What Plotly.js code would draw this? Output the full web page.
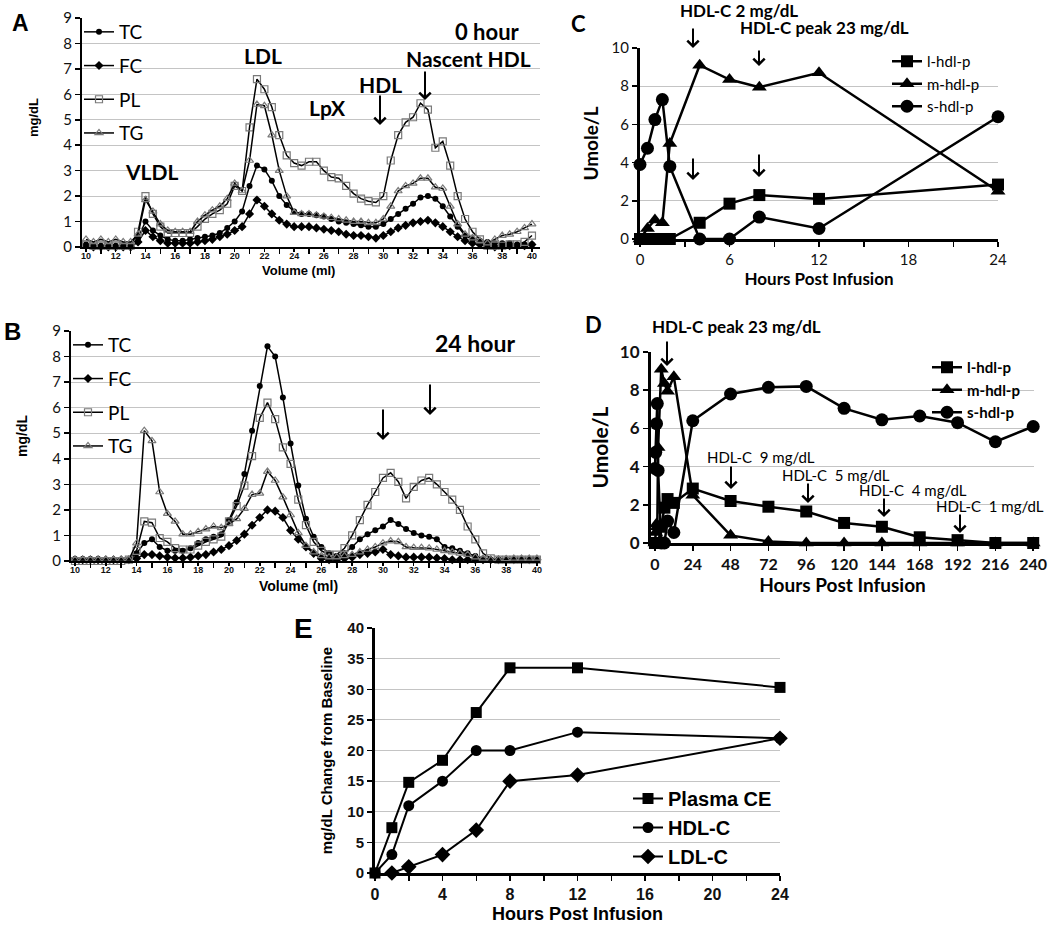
<!DOCTYPE html>
<html>
<head>
<meta charset="utf-8">
<script src="https://cdn.plot.ly/plotly-3.0.1.min.js"></script>
<style>html,body{margin:0;padding:0;background:#fff}</style>
</head>
<body>
<div id="chart" style="width:1050px;height:928px"></div>
<script>
// fraction volume (ml), panels A and B
const volume = [10, 10.5, 11, 11.5, 12, 12.5, 13, 13.5, 14, 14.5, 15, 15.5, 16, 16.5, 17, 17.5, 18, 18.5, 19, 19.5,
  20, 20.5, 21, 21.5, 22, 22.5, 23, 23.5, 24, 24.5, 25, 25.5, 26, 26.5, 27, 27.5, 28, 28.5, 29, 29.5,
  30, 30.5, 31, 31.5, 32, 32.5, 33, 33.5, 34, 34.5, 35, 35.5, 36, 36.5, 37, 37.5, 38, 38.5, 39, 39.5, 40]

// A: 0 hour
const tc0 = [0.1, 0.05, 0.05, 0.05, 0.05, 0.05, 0.05, 0.35, 1.0, 0.65, 0.45, 0.3, 0.25, 0.25, 0.3, 0.35, 0.4, 0.45, 0.55, 0.75,
  1.0, 1.4, 2.4, 3.2, 3.05, 2.6, 2.0, 1.65, 1.4, 1.3, 1.3, 1.25, 1.2, 1.1, 1.0, 0.95, 0.9, 0.85, 0.8, 0.8,
  0.9, 1.1, 1.3, 1.5, 1.7, 1.95, 2.0, 1.9, 1.6, 1.2, 0.8, 0.45, 0.3, 0.25, 0.2, 0.15, 0.15, 0.15, 0.1, 0.1, 0.1]
const fc0 = [0.05, 0, 0, 0, 0, 0, 0, 0.2, 0.65, 0.4, 0.25, 0.15, 0.15, 0.15, 0.15, 0.2, 0.25, 0.3, 0.4, 0.5,
  0.65, 0.8, 1.3, 1.85, 1.6, 1.3, 1.05, 0.9, 0.8, 0.8, 0.8, 0.75, 0.7, 0.65, 0.6, 0.5, 0.45, 0.45, 0.4, 0.35,
  0.45, 0.6, 0.75, 0.85, 0.95, 1.0, 1.05, 0.95, 0.8, 0.6, 0.4, 0.25, 0.15, 0.1, 0.05, 0, 0.05, 0.05, 0.05, 0.05, 0.1]
const pl0 = [0.1, 0.05, 0.05, 0.05, 0.05, 0.05, 0.05, 0.6, 2.0, 1.3, 0.8, 0.55, 0.55, 0.55, 0.55, 0.8, 1.1, 1.3, 1.45, 1.7,
  2.4, 2.2, 4.7, 6.6, 6.2, 5.5, 4.4, 3.6, 3.3, 3.2, 3.35, 3.35, 3.0, 2.75, 2.7, 2.4, 2.1, 1.9, 1.8, 1.75,
  2.0, 3.4, 4.4, 4.9, 5.1, 5.65, 5.4, 3.9, 4.15, 3.2, 2.0, 1.1, 0.6, 0.3, 0.05, 0.05, 0.05, 0.1, 0.1, 0.2, 0.45]
const tg0 = [0.3, 0.2, 0.3, 0.2, 0.3, 0.2, 0.2, 0.5, 1.85, 1.4, 0.9, 0.65, 0.6, 0.6, 0.6, 1.0, 1.25, 1.45, 1.6, 1.9,
  2.5, 2.2, 3.4, 5.6, 5.55, 4.4, 3.0, 2.0, 1.35, 1.3, 1.3, 1.25, 1.2, 1.15, 1.1, 1.05, 1.0, 1.0, 0.95, 0.95,
  1.1, 1.6, 2.2, 2.4, 2.5, 2.7, 2.7, 2.35, 2.3, 1.6, 0.9, 0.5, 0.35, 0.25, 0.15, 0.3, 0.45, 0.5, 0.6, 0.75, 0.9]

// B: 24 hour
const tc24 = [0.08, 0.08, 0.08, 0.08, 0.05, 0.05, 0.05, 0.05, 0.3, 0.7, 0.85, 0.55, 0.4, 0.4, 0.4, 0.5, 0.7, 0.85, 0.95, 1.05,
  1.6, 2.3, 3.4, 5.1, 6.85, 8.4, 8.0, 6.4, 4.6, 2.95, 1.65, 0.95, 0.55, 0.3, 0.2, 0.3, 0.55, 0.85, 1.05, 1.2,
  1.35, 1.6, 1.45, 1.25, 1.1, 1.0, 0.95, 0.85, 0.55, 0.5, 0.4, 0.3, 0.2, 0.1, 0.05, 0.05, 0.05, 0.05, 0.05, 0.05, 0.05]
const fc24 = [0.05, 0.05, 0.05, 0.05, 0.05, 0.05, 0.05, 0.05, 0.1, 0.25, 0.25, 0.2, 0.15, 0.12, 0.12, 0.15, 0.2, 0.25, 0.35, 0.45,
  0.6, 0.8, 1.05, 1.4, 1.7, 2.0, 1.95, 1.7, 1.2, 0.85, 0.55, 0.3, 0.1, 0.05, 0.05, 0.1, 0.15, 0.25, 0.3, 0.35,
  0.45, 0.25, 0.2, 0.15, 0.15, 0.15, 0.15, 0.12, 0.1, 0.05, 0.05, 0.05, 0.05, 0.05, 0.05, 0.05, 0.05, 0.05, 0.05, 0.05, 0.05]
const pl24 = [0, 0, 0, 0, 0, 0, 0, 0.05, 0.4, 1.55, 1.5, 0.9, 0.75, 0.5, 0.45, 0.45, 0.6, 0.75, 0.85, 0.95,
  1.55, 2.15, 2.95, 4.1, 5.6, 6.2, 5.55, 4.45, 3.8, 2.4, 1.4, 0.75, 0.4, 0.25, 0.25, 0.5, 1.0, 1.6, 2.2, 2.7,
  3.25, 3.45, 3.1, 2.45, 2.9, 3.15, 3.25, 3.0, 2.7, 2.4, 2.0, 1.35, 0.85, 0.3, 0.1, 0.05, 0.05, 0.05, 0.05, 0.05, 0.05]
const tg24 = [0.05, 0.05, 0.05, 0.05, 0.05, 0.05, 0.05, 0.05, 0.7, 5.1, 4.7, 2.7, 1.85, 1.55, 1.05, 1.05, 1.15, 1.25, 1.35, 1.3,
  1.45, 1.65, 2.05, 2.6, 2.65, 3.5, 3.15, 2.5, 1.8, 1.1, 0.6, 0.35, 0.2, 0.15, 0.15, 0.2, 0.25, 0.35, 0.45, 0.55,
  0.7, 0.78, 0.75, 0.55, 0.52, 0.52, 0.5, 0.45, 0.4, 0.35, 0.3, 0.25, 0.15, 0.1, 0.05, 0.05, 0.08, 0.1, 0.1, 0.1, 0.1]

// C and D: particle concentrations (Umole/L)
const hoursEarly = [0, 0.5, 1, 1.5, 2, 4, 6, 8, 12, 24]
const lHdlEarly = [0, 0, 0, 0, 0, 0.85, 1.85, 2.3, 2.1, 2.85]
const mHdlEarly = [0, 0.55, 1.0, 0.85, 5.0, 9.1, 8.35, 7.95, 8.7, 2.5]
const sHdlEarly = [3.9, 4.75, 6.25, 7.3, 3.8, 0, 0, 1.15, 0.55, 6.4]
const hoursLate = [48, 72, 96, 120, 144, 168, 192, 216, 240]
const lHdlLate = [2.2, 1.9, 1.65, 1.05, 0.85, 0.3, 0.15, 0, 0]
const mHdlLate = [0.4, 0.08, 0, 0, 0, 0, 0, 0, 0]
const sHdlLate = [7.8, 8.15, 8.2, 7.05, 6.45, 6.65, 6.3, 5.3, 6.1]

// E: change from baseline (mg/dL)
const hoursE = [0, 1, 2, 4, 6, 8, 12, 24]
const plasmaCE = [0, 7.4, 14.8, 18.4, 26.2, 33.5, 33.5, 30.3]
const hdlC = [0, 3, 11, 15, 20, 20, 23, 22]
const hoursLdl = [1, 2, 4, 6, 8, 12, 24]
const ldlC = [0, 1, 3, 7, 15, 16, 22]

const W = 1050
const H = 928
const px = x => x / W
const py = y => 1 - y / H

const CAL = 'Lato, "Open Sans", sans-serif'
const ARIAL = '"Liberation Sans", Arial, sans-serif'
const GRID = '#c4c4c4'

function trace (x, y, name, xa, ya, legend, marker, lineWidth) {
  return {
    x, y, name,
    xaxis: xa, yaxis: ya,
    legend, legendgroup: legend + name,
    type: 'scatter',
    mode: 'lines+markers',
    cliponaxis: false,
    line: {color: '#000', width: lineWidth},
    marker
  }
}

const filled = (symbol, size) => ({symbol, size, color: '#000'})
const open = (symbol, size) => ({symbol, size, color: '#7a7a7a', line: {color: '#7a7a7a', width: 1.2}})

const allHours = hoursEarly.concat(hoursLate)
const data = [
  trace(volume, tc0, 'TC', 'x', 'y', 'legend', filled('circle', 6), 1.5),
  trace(volume, fc0, 'FC', 'x', 'y', 'legend', filled('diamond', 7), 1.5),
  trace(volume, pl0, 'PL', 'x', 'y', 'legend', open('square-open', 7), 1.5),
  trace(volume, tg0, 'TG', 'x', 'y', 'legend', open('triangle-up-open', 7), 1.5),

  trace(volume, tc24, 'TC', 'x2', 'y2', 'legend2', filled('circle', 6), 1.5),
  trace(volume, fc24, 'FC', 'x2', 'y2', 'legend2', filled('diamond', 7), 1.5),
  trace(volume, pl24, 'PL', 'x2', 'y2', 'legend2', open('square-open', 7), 1.5),
  trace(volume, tg24, 'TG', 'x2', 'y2', 'legend2', open('triangle-up-open', 7), 1.5),

  trace(hoursEarly, lHdlEarly, 'l-hdl-p', 'x3', 'y3', 'legend3', filled('square', 12), 2.5),
  trace(hoursEarly, mHdlEarly, 'm-hdl-p', 'x3', 'y3', 'legend3', filled('triangle-up', 13), 2.5),
  trace(hoursEarly, sHdlEarly, 's-hdl-p', 'x3', 'y3', 'legend3', filled('circle', 13), 2.5),

  trace(allHours, lHdlEarly.concat(lHdlLate), 'l-hdl-p', 'x4', 'y4', 'legend4', filled('square', 12), 2.5),
  trace(allHours, mHdlEarly.concat(mHdlLate), 'm-hdl-p', 'x4', 'y4', 'legend4', filled('triangle-up', 13), 2.5),
  trace(allHours, sHdlEarly.concat(sHdlLate), 's-hdl-p', 'x4', 'y4', 'legend4', filled('circle', 13), 2.5),

  trace(hoursE, plasmaCE, 'Plasma CE', 'x5', 'y5', 'legend5', filled('square', 11), 2),
  trace(hoursE, hdlC, 'HDL-C', 'x5', 'y5', 'legend5', filled('circle', 11), 2),
  trace(hoursLdl, ldlC, 'LDL-C', 'x5', 'y5', 'legend5', filled('diamond', 12), 2)
]

function xAxis (domain, range, dtick, minor, font, lw, extra) {
  return Object.assign({
    domain, range,
    tickmode: 'linear', tick0: 0, dtick,
    ticks: 'outside', ticklen: 5, tickwidth: 1.5, tickcolor: '#000',
    minor: minor ? {dtick: minor, ticks: 'outside', ticklen: 5, tickwidth: 1.5, tickcolor: '#000', showgrid: false} : undefined,
    showline: true, linecolor: '#000', linewidth: lw,
    showgrid: false, zeroline: false,
    tickfont: font
  }, extra)
}

function yAxis (domain, range, dtick, font, lw, extra) {
  return Object.assign({
    domain, range,
    tickmode: 'linear', tick0: 0, dtick,
    ticks: 'outside', ticklen: 5, tickwidth: 1.5, tickcolor: '#000',
    showline: true, linecolor: '#000', linewidth: lw,
    showgrid: true, gridcolor: GRID, gridwidth: 1.2, zeroline: false,
    tickfont: font
  }, extra)
}

function legendAt (x, y, font, gap) {
  return {
    x: px(x), y: py(y), xanchor: 'left', yanchor: 'top',
    bgcolor: 'rgba(0,0,0,0)', borderwidth: 0,
    font, itemwidth: 30, traceorder: 'grouped', tracegroupgap: gap
  }
}

function note (text, x, y, size, family, weight, extra) {
  return Object.assign({
    text, x: px(x), y: py(y), xref: 'paper', yref: 'paper',
    showarrow: false, xanchor: 'center', yanchor: 'middle',
    font: {family, size, color: '#000', weight}
  }, extra)
}

function arrow (x, yTail, yTip) {
  return {
    text: '', x: px(x), y: py(yTip), xref: 'paper', yref: 'paper',
    showarrow: true, ax: 0, ay: yTail - yTip,
    arrowhead: 4, arrowsize: 1.1, arrowwidth: 2, arrowcolor: '#000', standoff: 0
  }
}

const tickCal = size => ({family: CAL, size, color: '#111'})
const tickCalBold = size => ({family: CAL, size, color: '#111', weight: 'bold'})
const tickArialBold = size => ({family: ARIAL, size, color: '#111', weight: 'bold'})

const layout = {
  width: W,
  height: H,
  margin: {l: 0, r: 0, t: 0, b: 0},
  paper_bgcolor: '#fff',
  plot_bgcolor: '#fff',
  showlegend: true,

  xaxis: xAxis([px(82), px(540)], [9.73, 40.54], 2, 1, tickArialBold(9), 2,
    {tick0: 10, anchor: 'y', ticklen: 3, ticklabelstandoff: -4}),
  yaxis: yAxis([py(247), py(18)], [0, 9], 1, tickCal(15), 2, {anchor: 'x'}),
  xaxis2: xAxis([px(71), px(540)], [9.74, 40.2], 2, 1, tickArialBold(9), 2,
    {tick0: 10, anchor: 'y2', ticklen: 3, ticklabelstandoff: -4}),
  yaxis2: yAxis([py(561), py(331)], [0, 9], 1, tickCal(15), 2, {anchor: 'x2'}),

  xaxis3: xAxis([px(640), px(998)], [0, 24], 6, 3, tickCal(15), 3, {
    anchor: 'y3',
    title: {text: 'Hours Post Infusion', standoff: 4, font: {family: CAL, size: 17, color: '#000', weight: 'bold'}}
  }),
  yaxis3: yAxis([py(239), py(48)], [0, 10], 2, tickCal(15), 3, {
    anchor: 'x3',
    title: {text: 'Umole/L', standoff: 8, font: {family: CAL, size: 19, color: '#000', weight: 'bold'}}
  }),

  xaxis4: xAxis([px(651), px(1034)], [-2.5, 240.5], 24, null, tickCalBold(16), 3, {
    anchor: 'y4',
    title: {text: 'Hours Post Infusion', standoff: 4, font: {family: CAL, size: 19, color: '#000', weight: 'bold'}}
  }),
  yaxis4: yAxis([py(543), py(352)], [0, 10], 2, tickCalBold(17), 3, {
    anchor: 'x4',
    title: {text: 'Umole/L', standoff: 6, font: {family: CAL, size: 21, color: '#000', weight: 'bold'}}
  }),

  xaxis5: xAxis([px(375), px(780)], [0, 24], 4, 2, tickArialBold(16), 3, {
    anchor: 'y5',
    title: {text: 'Hours Post Infusion', standoff: 6, font: {family: ARIAL, size: 18, color: '#000', weight: 'bold'}}
  }),
  yaxis5: yAxis([py(873), py(628)], [0, 40], 5, tickArialBold(15), 3, {
    anchor: 'x5',
    title: {text: 'mg/dL Change from Baseline', standoff: 12, font: {family: ARIAL, size: 15, color: '#000', weight: 'bold'}}
  }),

  legend: legendAt(79, 13, {family: CAL, size: 19, color: '#000'}, 6),
  legend2: legendAt(68, 326, {family: CAL, size: 19, color: '#000'}, 6),
  legend3: legendAt(887, 45, {family: CAL, size: 15, color: '#000'}, 0),
  legend4: legendAt(927, 351, {family: CAL, size: 15, color: '#000', weight: 'bold'}, 0),
  legend5: legendAt(628, 779, {family: ARIAL, size: 20, color: '#000', weight: 'bold'}, 0),

  annotations: [
    // A
    note('A', 20, 23, 23, ARIAL, 'bold'),
    note('mg/dL', 33, 118, 13, ARIAL, 'bold', {textangle: -90}),
    note('Volume (ml)', 298, 270, 13, ARIAL, 'bold'),
    note('VLDL', 151, 172, 21, CAL, 'bold'),
    note('LDL', 263, 55, 21, CAL, 'bold'),
    note('LpX', 327, 107, 21, CAL, 'bold'),
    note('HDL', 380, 84, 21, CAL, 'bold'),
    note('Nascent HDL', 468, 58, 21, CAL, 'bold'),
    note('0 hour', 487, 31, 22, CAL, 'bold'),
    arrow(380, 94, 125),
    arrow(425, 70, 100),
    // B
    note('B', 12, 331, 24, ARIAL, 'bold'),
    note('mg/dL', 22, 436, 14, ARIAL, 'bold', {textangle: -90}),
    note('Volume (ml)', 298, 586, 14, ARIAL, 'bold'),
    note('24 hour', 475, 343, 23, CAL, 'bold'),
    arrow(383, 408, 440),
    arrow(430, 383, 415),
    // C
    note('C', 578, 24, 22, CAL, 'bold'),
    note('HDL-C 2 mg/dL', 739, 10, 17, CAL, 'bold'),
    note('HDL-C peak 23 mg/dL', 824, 28, 17, CAL, 'bold'),
    arrow(693, 27, 48),
    arrow(759, 49, 66),
    arrow(693, 157, 180),
    arrow(759, 153, 177),
    // D
    note('D', 593, 324, 22, CAL, 'bold'),
    note('HDL-C peak 23 mg/dL', 736, 327, 17, CAL, 'bold'),
    arrow(667, 340, 366),
    note('HDL-C\u00a0 9 mg/dL', 761, 457, 15, CAL, 'normal'),
    arrow(731, 465, 489),
    note('HDL-C\u00a0 5 mg/dL', 836, 475, 15, CAL, 'normal'),
    arrow(808, 482, 503),
    note('HDL-C\u00a0 4 mg/dL', 913, 490, 15, CAL, 'normal'),
    arrow(884, 497, 517),
    note('HDL-C\u00a0 1 mg/dL', 990, 506, 15, CAL, 'normal'),
    arrow(960, 513, 533),
    // E
    note('E', 303, 628, 28, ARIAL, 'bold')
  ]
}

Plotly.newPlot('chart', data, layout, {staticPlot: true})
</script>
</body>
</html>
